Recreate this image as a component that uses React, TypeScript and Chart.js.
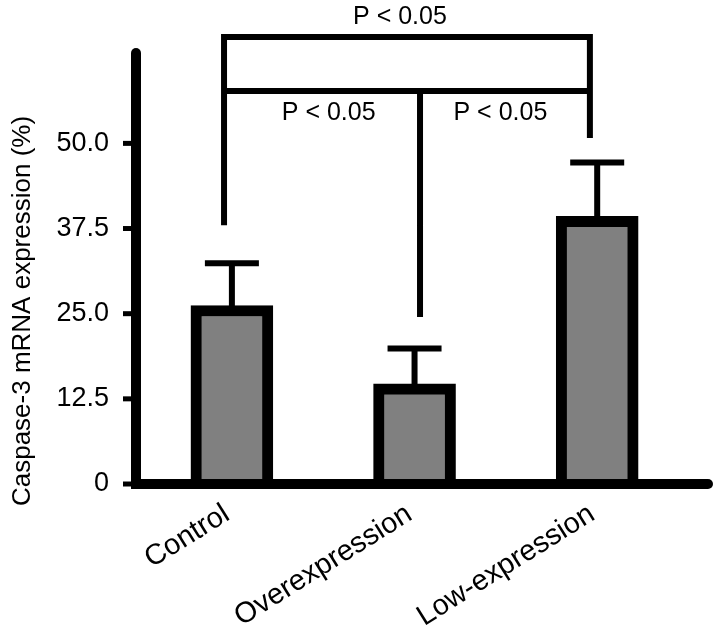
import React, { useEffect, useRef } from "react";
import { Chart, registerables } from "chart.js";

Chart.register(...registerables);

// ---- data ----
const categories = ["Control", "Overexpression", "Low-expression"];
const means = [26.2, 14.7, 39.3];
const sds = [6.2, 5.2, 7.9];
const yTickValues = [0, 12.5, 25, 37.5, 50];
const yTickLabels = ["0", "12.5", "25.0", "37.5", "50.0"];
const yAxisTitle = "Caspase-3 mRNA expression (%)";

// significance annotation (in data units)
const bracketTopLevel = 65.6;
const bracketMidLevel = 57.7;
const bracketLegX = [-0.043, 1.03, 1.96];
const bracketLegEnd = [38.0, 24.5, 50.8];
const pLabelText = ["P < 0.05", "P < 0.05", "P < 0.05"];
const pLabelX = [0.92, 0.53, 1.47];
const pLabelY = [68.6, 54.5, 54.5];

const FONT = "'Liberation Sans', Arial, sans-serif";

const overlay = {
  id: "overlay",
  afterDraw(chart: any) {
    const { ctx, chartArea, scales } = chart;
    const x = scales.x;
    const y = scales.y;
    ctx.save();
    ctx.strokeStyle = "#000";
    ctx.fillStyle = "#000";

    // error bars
    ctx.lineWidth = 6;
    ctx.lineCap = "butt";
    means.forEach((m, i) => {
      const cx = x.getPixelForValue(i);
      const yt = y.getPixelForValue(m);
      const ye = y.getPixelForValue(m + sds[i]);
      ctx.beginPath();
      ctx.moveTo(cx, yt + 2);
      ctx.lineTo(cx, ye);
      ctx.moveTo(cx - 27, ye);
      ctx.lineTo(cx + 27, ye);
      ctx.stroke();
    });

    // axes
    const L = chartArea.left;
    const B = chartArea.bottom;
    ctx.lineWidth = 10;
    ctx.beginPath();
    ctx.moveTo(L, chartArea.top + 5);
    ctx.lineTo(L, B + 5);
    ctx.stroke();
    ctx.beginPath();
    ctx.arc(L, chartArea.top + 5, 5, 0, Math.PI * 2);
    ctx.fill();
    ctx.beginPath();
    ctx.moveTo(L - 5, B);
    ctx.lineTo(chartArea.right - 5, B);
    ctx.stroke();
    ctx.beginPath();
    ctx.arc(chartArea.right - 5, B, 5, 0, Math.PI * 2);
    ctx.fill();

    // y ticks
    ctx.lineWidth = 5;
    yTickValues.forEach((v) => {
      const py = y.getPixelForValue(v);
      ctx.beginPath();
      ctx.moveTo(L - 13, py);
      ctx.lineTo(L, py);
      ctx.stroke();
    });

    // brackets
    ctx.lineWidth = 6;
    const topY = y.getPixelForValue(bracketTopLevel);
    const midY = y.getPixelForValue(bracketMidLevel);
    const legX = bracketLegX.map((v) => x.getPixelForValue(v));
    ctx.beginPath();
    ctx.moveTo(legX[0] - 3, topY);
    ctx.lineTo(legX[2] + 3, topY);
    ctx.moveTo(legX[0] - 3, midY);
    ctx.lineTo(legX[2] + 3, midY);
    ctx.moveTo(legX[0], topY);
    ctx.lineTo(legX[0], y.getPixelForValue(bracketLegEnd[0]));
    ctx.moveTo(legX[1], midY);
    ctx.lineTo(legX[1], y.getPixelForValue(bracketLegEnd[1]));
    ctx.moveTo(legX[2], topY);
    ctx.lineTo(legX[2], y.getPixelForValue(bracketLegEnd[2]));
    ctx.stroke();

    // p labels
    ctx.font = `25px ${FONT}`;
    ctx.textAlign = "center";
    ctx.textBaseline = "middle";
    pLabelText.forEach((t, i) => {
      ctx.fillText(t, x.getPixelForValue(pLabelX[i]), y.getPixelForValue(pLabelY[i]));
    });

    // y axis title
    ctx.save();
    ctx.translate(23, 311);
    ctx.rotate(-Math.PI / 2);
    ctx.font = `26px ${FONT}`;
    ctx.fillText(yAxisTitle, 0, 0);
    ctx.restore();

    ctx.restore();
  },
};

export default function App() {
  const ref = useRef<HTMLCanvasElement | null>(null);

  useEffect(() => {
    document.body.style.margin = "0";
    if (!ref.current) return;
    const chart = new Chart(ref.current, {
      type: "bar",
      data: {
        datasets: [
          {
            data: means.map((m, i) => ({ x: i, y: m })),
            backgroundColor: "#808080",
            borderColor: "#000",
            borderWidth: 11,
            borderSkipped: "bottom",
            barThickness: 82,
          } as any,
        ],
      },
      options: {
        responsive: false,
        devicePixelRatio: 1,
        animation: false,
        layout: { padding: { left: 0, top: 48, right: 11, bottom: 0 } },
        plugins: { legend: { display: false }, tooltip: { enabled: false } },
        scales: {
          x: {
            type: "linear",
            offset: false,
            min: -0.525,
            max: 2.634,
            grid: { display: false, offset: false },
            border: { display: false },
            afterBuildTicks: (s: any) => {
              s.ticks = categories.map((_, i) => ({ value: i }));
            },
            afterFit: (s: any) => {
              s.height = 151;
            },
            ticks: {
              minRotation: 32,
              maxRotation: 32,
              padding: 5,
              labelOffset: -5,
              color: "#000",
              font: { family: FONT, size: 29 },
              callback: (_v: any, i: number) => categories[i],
            },
          },
          y: {
            min: 0,
            max: 64,
            grid: { display: false },
            border: { display: false },
            afterBuildTicks: (s: any) => {
              s.ticks = yTickValues.map((v) => ({ value: v }));
            },
            afterFit: (s: any) => {
              s.width = 136;
            },
            ticks: {
              padding: 19,
              color: "#000",
              font: { family: FONT, size: 27 },
              callback: (_v: any, i: number) => yTickLabels[i],
            },
          },
        },
      },
      plugins: [overlay],
    });
    return () => chart.destroy();
  }, []);

  return (
    <div style={{ width: 724, height: 635 }}>
      <canvas ref={ref} width={724} height={635} />
    </div>
  );
}
